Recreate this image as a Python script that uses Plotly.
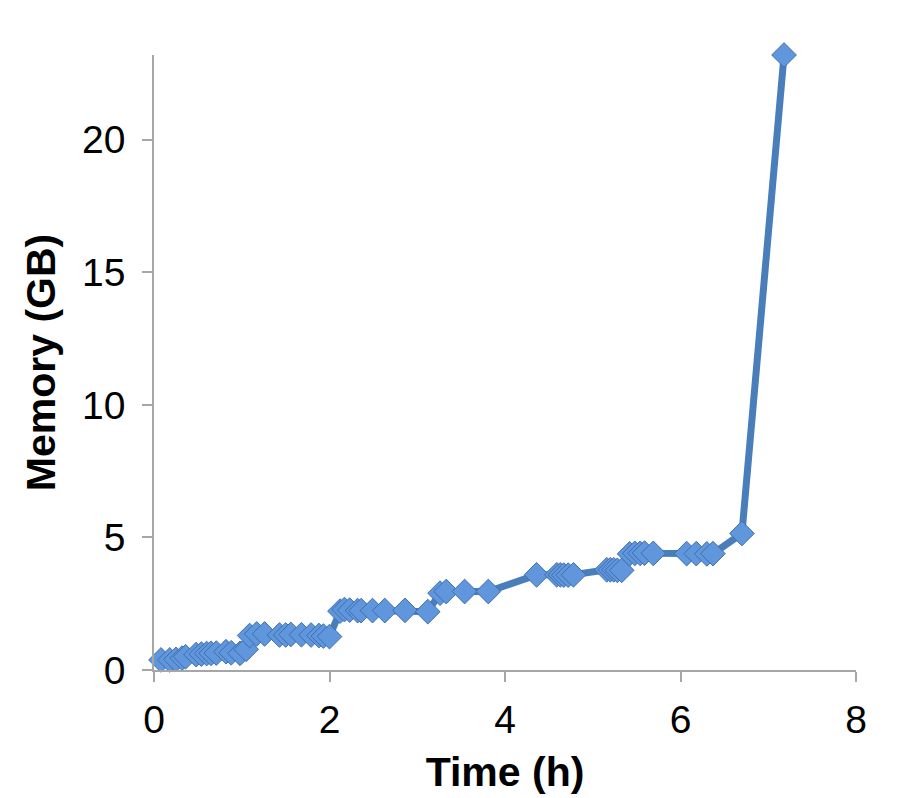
import plotly.graph_objects as go

time_h = [0.08, 0.18, 0.25, 0.32, 0.36, 0.48, 0.54, 0.60, 0.65, 0.71, 0.82, 0.88, 0.98, 1.05,
          1.09, 1.17, 1.26, 1.43, 1.50, 1.56, 1.68, 1.79, 1.88, 1.93, 2.00,
          2.12, 2.17, 2.23, 2.32, 2.36, 2.49, 2.63, 2.86, 3.12,
          3.26, 3.33, 3.54, 3.81, 4.36, 4.59, 4.63, 4.67, 4.72, 4.78,
          5.16, 5.20, 5.24, 5.28, 5.33, 5.42, 5.48, 5.54, 5.59, 5.69,
          6.07, 6.18, 6.30, 6.37, 6.70, 7.18]
memory_gb = [0.38, 0.38, 0.40, 0.45, 0.50, 0.58, 0.60, 0.62, 0.63, 0.64, 0.69, 0.65, 0.63, 0.78,
             1.30, 1.36, 1.36, 1.32, 1.32, 1.34, 1.33, 1.32, 1.30, 1.28, 1.26,
             2.22, 2.28, 2.26, 2.24, 2.24, 2.24, 2.24, 2.25, 2.20,
             2.90, 2.96, 2.96, 2.96, 3.59, 3.59, 3.59, 3.58, 3.58, 3.59,
             3.78, 3.78, 3.78, 3.76, 3.76, 4.38, 4.40, 4.40, 4.41, 4.40,
             4.39, 4.39, 4.38, 4.39, 5.15, 23.2]

x_ticks = [0, 2, 4, 6, 8]
y_ticks = [0, 5, 10, 15, 20]

fig = go.Figure()
fig.add_trace(go.Scatter(
    x=time_h, y=memory_gb, mode="lines+markers",
    line=dict(color="#4a7ebb", width=7),
    marker=dict(symbol="diamond", size=19, color="#6096dc",
                line=dict(color="#3f6fb0", width=1)),
    cliponaxis=False,
))

axis_col = "#a6a6a6"
fig.update_layout(
    width=900, height=798,
    margin=dict(l=154, r=44, t=55, b=128),
    paper_bgcolor="white", plot_bgcolor="white",
    showlegend=False,
    font=dict(family="Liberation Sans, Arial, sans-serif", color="black"),
    xaxis=dict(
        range=[0, 8], tickvals=x_ticks, ticktext=[str(v) for v in x_ticks],
        showgrid=False, zeroline=False, showline=True, linecolor=axis_col, linewidth=1.5,
        ticks="outside", ticklen=10, tickwidth=1.5, tickcolor=axis_col,
        tickfont=dict(size=39, family="Liberation Sans, Arial"),
        ticklabelstandoff=4,
        title=dict(text="<b>Time (h)</b>", standoff=18,
                   font=dict(size=41, family="Liberation Sans, Arial")),
    ),
    yaxis=dict(
        range=[0, 23.2], tickvals=y_ticks, ticktext=[str(v) for v in y_ticks],
        showgrid=False, zeroline=False, showline=True, linecolor=axis_col, linewidth=1.5,
        ticks="outside", ticklen=10, tickwidth=1.5, tickcolor=axis_col,
        tickfont=dict(size=39, family="Liberation Sans, Arial"),
        ticklabelstandoff=9,
        title=dict(text="<b>Memory (GB)</b>", standoff=14,
                   font=dict(size=41, family="Liberation Sans, Arial")),
    ),
)

fig.write_html("out.html")
